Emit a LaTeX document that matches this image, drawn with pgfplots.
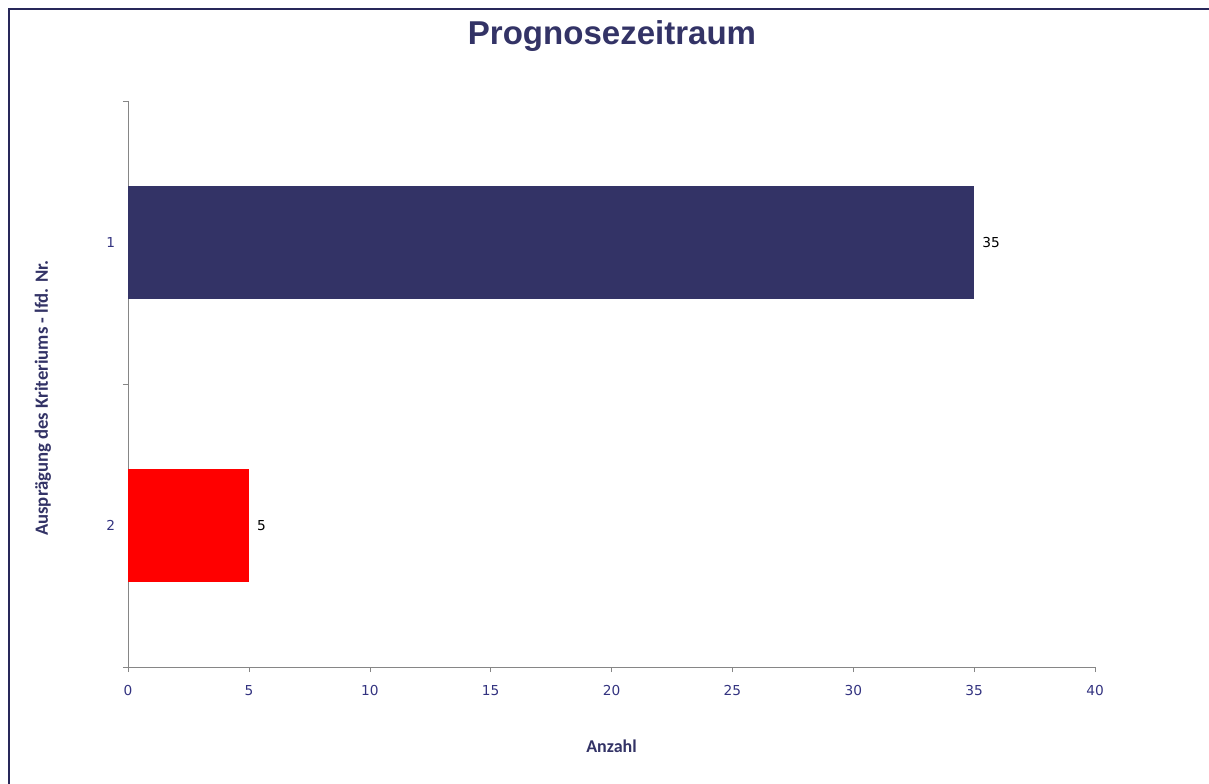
\documentclass[border=0pt]{standalone}
\usepackage{pgfplots}
\pgfplotsset{compat=1.18}
\usepackage{fontspec}
\setmainfont{DejaVu Sans}
\newfontfamily\titlefont{Liberation Sans}
\newfontfamily\labfont{Carlito}
\definecolor{navy}{RGB}{51,51,102}
\definecolor{ticktext}{RGB}{51,51,128}
\definecolor{axgrey}{RGB}{134,134,134}
\definecolor{framec}{RGB}{40,40,90}
\begin{document}
\begin{tikzpicture}[x=0.25mm,y=0.25mm]
\path[use as bounding box] (-128,-116) rectangle (1081,667);
\draw[framec,line width=0.5mm] (-119,-120) -- (-119,658) -- (1090,658);
\node[font=\titlefont\bfseries\fontsize{23.5}{27}\selectfont,text=navy] at (484,631) {Prognosezeitraum};
\begin{axis}[
  at={(0,0)}, anchor=south west,
  scale only axis,
  width=241.75mm, height=141.5mm,
  xbar, bar shift=0pt, bar width=28.25mm,
  xmin=0, xmax=40, xtick={0,5,...,40},
  ymin=0, ymax=2, y dir=reverse,
  ytick={0,1,2}, yticklabels={},
  extra y ticks={0.5,1.5}, extra y tick labels={1,2},
  extra y tick style={major tick length=0pt, tick label style={xshift=-2mm}},
  axis lines=left,
  axis line style={-, axgrey, line width=0.3pt},
  tick style={axgrey, line width=0.3pt},
  major tick length=1.3mm,
  tick align=outside,
  tick label style={font=\fontsize{9.75}{11}\selectfont, text=ticktext},
  xticklabel style={yshift=-2mm},
  /pgf/number format/assume math mode=true,
  xlabel={Anzahl},
  ylabel={Ausprägung des Kriteriums - lfd. Nr.},
  xlabel style={font=\labfont\bfseries\fontsize{12.8}{14}\selectfont, text=navy, at={(axis description cs:0.5,0)}, anchor=center, yshift=-79*0.25mm},
  ylabel style={font=\labfont\bfseries\fontsize{13.3}{15}\selectfont, text=navy, at={(axis description cs:0,0.5)}, anchor=center, yshift=85*0.25mm, xshift=-14*0.25mm},
  nodes near coords,
  every node near coord/.append style={font=\fontsize{9.75}{11}\selectfont, text=black, anchor=west, inner sep=0pt, xshift=2mm},
  point meta=explicit symbolic,
]
\addplot[fill=navy, draw=none] coordinates {(35,0.5) [35]};
\addplot[fill=red, draw=none] coordinates {(5,1.5) [5]};
\end{axis}
\end{tikzpicture}
\end{document}
